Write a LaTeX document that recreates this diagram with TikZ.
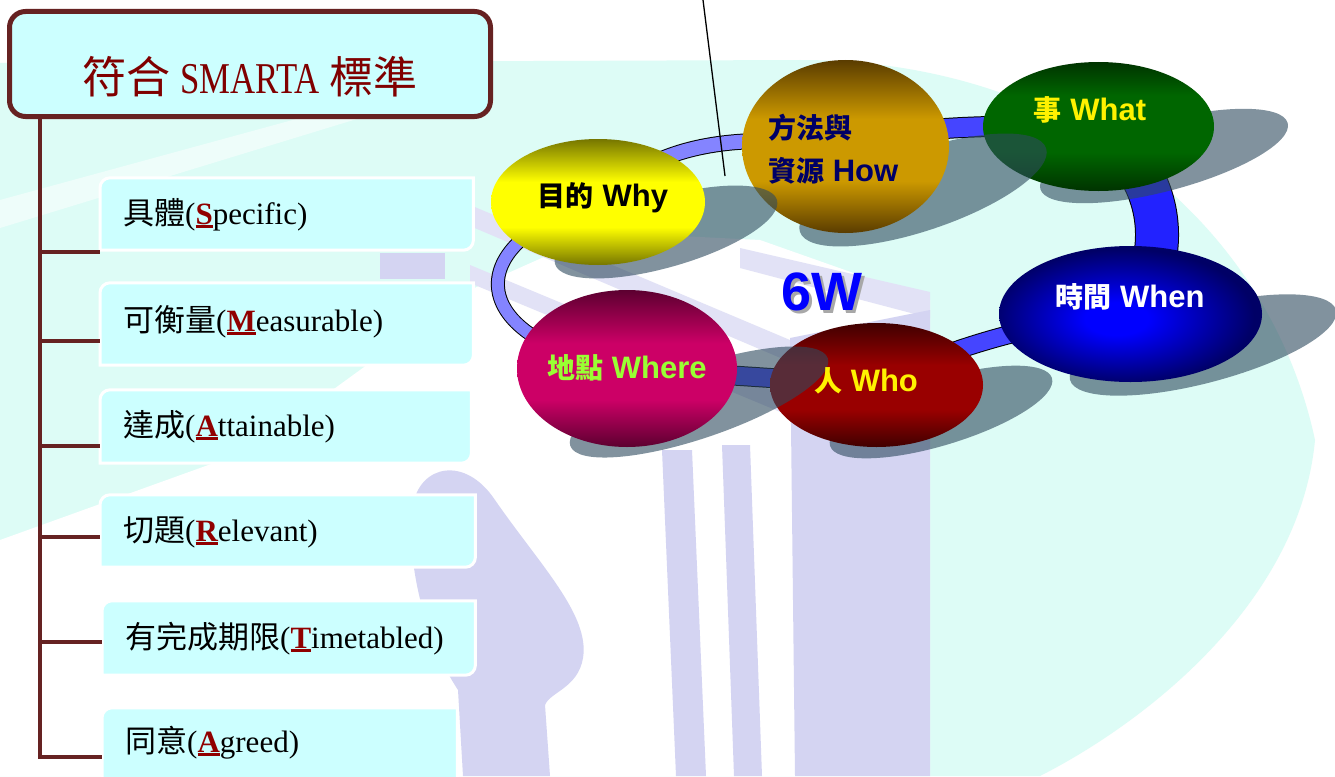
\documentclass[tikz,border=0pt]{standalone}
\usepackage{fontspec}
\usepackage{graphicx}
\setmainfont{Liberation Serif}
\newfontfamily\cjk{Noto Sans CJK TC}
\newfontfamily\arial{Liberation Sans}
\usetikzlibrary{shapes.geometric,calc}

\definecolor{trunk}{HTML}{662222}
\definecolor{titlered}{HTML}{800000}
\definecolor{keyred}{HTML}{900000}
\definecolor{boxcyan}{HTML}{CCFFFF}
\definecolor{wmcyan}{HTML}{DDFCF6}
\definecolor{wmlav}{HTML}{D4D4F2}
\definecolor{wmlavlt}{HTML}{E2E2F6}
\definecolor{ringlt}{HTML}{8484FF}
\definecolor{ringmd}{HTML}{4545FF}
\definecolor{ringdk}{HTML}{2222FF}
\definecolor{shadowc}{HTML}{2E4A5E}
\definecolor{whyD}{HTML}{767600}
\definecolor{whyL}{HTML}{FFFF00}
\definecolor{howD}{HTML}{5A3C00}
\definecolor{howL}{HTML}{CC9900}
\definecolor{whatD}{HTML}{003300}
\definecolor{whatL}{HTML}{006600}
\definecolor{whoD}{HTML}{400000}
\definecolor{whoL}{HTML}{990000}
\definecolor{whereD}{HTML}{5C0030}
\definecolor{whereL}{HTML}{CC0066}
\definecolor{whenD}{HTML}{000066}
\definecolor{whenL}{HTML}{0000FF}
\definecolor{howtxt}{HTML}{000066}
\definecolor{wheretxt}{HTML}{99FF33}
\definecolor{sixgray}{HTML}{A8A8A8}

\pgfdeclareverticalshading{whysh}{100bp}{color(0bp)=(whyD); color(25bp)=(whyD); color(40bp)=(whyL); color(58bp)=(whyL); color(75bp)=(whyD); color(100bp)=(whyD)}
\pgfdeclareverticalshading{howsh}{100bp}{color(0bp)=(howD); color(25bp)=(howD); color(40bp)=(howL); color(58bp)=(howL); color(75bp)=(howD); color(100bp)=(howD)}
\pgfdeclareverticalshading{whatsh}{100bp}{color(0bp)=(whatD); color(25bp)=(whatD); color(40bp)=(whatL); color(62bp)=(whatL); color(75bp)=(whatD); color(100bp)=(whatD)}
\pgfdeclareverticalshading{whosh}{100bp}{color(0bp)=(whoD); color(25bp)=(whoD); color(40bp)=(whoL); color(58bp)=(whoL); color(75bp)=(whoD); color(100bp)=(whoD)}
\pgfdeclareverticalshading{wheresh}{100bp}{color(0bp)=(whereD); color(25bp)=(whereD); color(40bp)=(whereL); color(58bp)=(whereL); color(75bp)=(whereD); color(100bp)=(whereD)}
\pgfdeclareradialshading{whensh}{\pgfpoint{-3bp}{-2bp}}{color(0bp)=(whenL); color(6bp)=(whenL); color(25bp)=(whenD); color(50bp)=(whenD)}

\pgfdeclarelayer{wm}
\pgfdeclarelayer{ring}
\pgfsetlayers{wm,ring,main}

\newcommand\ck[1]{{\cjk\fontsize{28}{36}\selectfont #1}}
\newcommand\keyl[1]{{\bfseries\color{keyred}\setbox0=\hbox{#1}\rlap{\rule[-3.5pt]{\wd0}{3pt}}\box0}}
\newcommand\itemframe[2]{%
  \filldraw[fill=boxcyan, draw=white, line width=3pt]
    ($(#1.south west)+(0,#2)$) -- ($(#1.north west)+(0,10)$)
    arc[start angle=180, end angle=270, radius=10] -- (#1.north east)
    -- ($(#1.south east)+(0,#2-10)$)
    arc[start angle=0, end angle=90, radius=10] -- cycle;}

\tikzset{
  ell/.style={ellipse, inner sep=0pt, draw=none},
  shadowfill/.style={fill=shadowc, fill opacity=0.6},
  lbl/.style={inner sep=0pt, font=\arial\bfseries\fontsize{31}{43}\selectfont},
  band/.style={draw=black, line width=1pt, double=#1},
  trunkline/.style={draw=trunk, line width=4.5pt},
  itemnode/.style={anchor=west, inner xsep=23pt, inner ysep=0pt, align=left,
    text depth=0pt, text height=20pt, font=\fontsize{31}{36}\selectfont},
  titlebox/.style={draw=trunk, line width=5pt, fill=boxcyan, rounded corners=16pt,
    minimum width=481pt, minimum height=105pt, inner sep=0pt,
    text height=58pt, text depth=0pt, text=titlered, font=\fontsize{44}{48}\selectfont}
}

\begin{document}
\begin{tikzpicture}[x=1pt, y=-1pt]
\useasboundingbox (0,0) rectangle (1335,776);

% ---------- watermark background ----------
\begin{pgfonlayer}{wm}
\fill[white] (0,0) rectangle (1335,776);
\fill[wmcyan] (0,63) -- (800,60) .. controls (1080,60) and (1270,230) .. (1315,440)
  .. controls (1300,600) and (1150,720) .. (1040,776) -- (0,776) -- cycle;
\fill[white, opacity=0.5] (0,200) -- (300,118) -- (360,118) -- (0,228) -- cycle;
\fill[white] (0,540) -- (250,450) -- (470,290) -- (600,232) -- (760,240) -- (930,300)
  -- (930,776) -- (0,776) -- cycle;
\fill[wmlavlt] (470,205) -- (790,340) -- (790,362) -- (470,226) -- cycle;
\fill[wmlavlt] (470,265) -- (790,398) -- (790,416) -- (470,283) -- cycle;
\fill[wmlavlt] (740,248) -- (930,292) -- (930,318) -- (740,268) -- cycle;
\fill[wmlav] (380,253) rectangle (445,279);
\fill[wmlav] (790,338) -- (930,310) -- (930,776) -- (795,776) -- cycle;
\fill[wmlav] (662,450) -- (692,450) -- (706,776) -- (676,776) -- cycle;
\fill[wmlav] (722,445) -- (750,445) -- (762,776) -- (734,776) -- cycle;
\fill[wmlav] (463,776) -- (458,690) .. controls (425,640) and (405,560) .. (413,505)
  .. controls (420,465) and (465,455) .. (495,500)
  .. controls (540,565) and (590,615) .. (583,658)
  .. controls (578,688) and (550,692) .. (545,705) -- (550,776) -- cycle;
\end{pgfonlayer}

% ---------- left: SMARTA tree ----------
\node[titlebox] (title) at (250,64)
  {{\cjk 符合}\hspace{10pt}\scalebox{0.79}[1]{SMARTA}\hspace{10pt}{\cjk 標準}};

\node[itemnode, text width=327pt, minimum height=72pt] (b1) at (100,214)
  {{\cjk 具體}(\keyl{S}pecific)};
\node[itemnode, text width=327pt, minimum height=82pt, text height=14pt] (b2) at (100,324)
  {{\cjk 可衡量}(\keyl{M}easurable)};
\node[itemnode, text width=325pt, minimum height=73pt] (b3) at (100,426.5)
  {{\cjk 達成}(\keyl{A}ttainable)};
\node[itemnode, text width=329pt, minimum height=72pt] (b4) at (100,531)
  {{\cjk 切題}(\keyl{R}elevant)};
\node[itemnode, text width=327pt, minimum height=74pt] (b5) at (102,638)
  {{\cjk 有完成期限}(\keyl{T}imetabled)};
\node[itemnode, text width=309pt, minimum height=68pt] (b6) at (102,742)
  {{\cjk 同意}(\keyl{A}greed)};

\begin{pgfonlayer}{ring}
\itemframe{b1}{0}
\itemframe{b2}{0}
\itemframe{b3}{0}
\itemframe{b4}{0}
\itemframe{b5}{0}
\itemframe{b6}{20}
\end{pgfonlayer}

\coordinate (spinebot) at (40,757);
\coordinate (br1) at (40,252);
\coordinate (br2) at (40,341);
\coordinate (br3) at (40,446);
\coordinate (br4) at (40,537);
\coordinate (br5) at (40,642);
\begin{pgfonlayer}{ring}
\draw[trunkline, line join=miter] (spinebot |- title.south) -- (spinebot) -- (spinebot -| b6.west);
\draw[trunkline] (br1) -- (br1 -| b1.west);
\draw[trunkline] (br2) -- (br2 -| b2.west);
\draw[trunkline] (br3) -- (br3 -| b3.west);
\draw[trunkline] (br4) -- (br4 -| b4.west);
\draw[trunkline] (br5) -- (br5 -| b5.west);
\end{pgfonlayer}

% ---------- right: 6W ring ----------
% What
\fill[shadowfill, rotate around={14.9:(1164,156)}] (1164,156) ellipse [x radius=128, y radius=35];
\node[ell, minimum width=231pt, minimum height=129pt, shading=whatsh] (what) at (1098.5,126.5) {};
% How
\fill[shadowfill, rotate around={18.8:(923,190)}] (923,190) ellipse [x radius=130, y radius=40];
\node[ell, minimum width=207pt, minimum height=173pt, shading=howsh] (how) at (845.5,146.5) {};
% Why
\fill[shadowfill, rotate around={16.1:(666,232)}] (666,232) ellipse [x radius=115.5, y radius=35];
\node[ell, minimum width=214pt, minimum height=126pt, shading=whysh] (why) at (598,202) {};
% Who
\fill[shadowfill, rotate around={17:(941,412)}] (941,412) ellipse [x radius=116, y radius=33];
\node[ell, minimum width=213pt, minimum height=124pt, shading=whosh] (who) at (876.5,385) {};
% Where
\fill[shadowfill, rotate around={18.8:(699,402)}] (699,402) ellipse [x radius=136, y radius=36];
\node[ell, minimum width=220pt, minimum height=157pt, shading=wheresh] (where) at (627,368.5) {};
% When
\fill[shadowfill, rotate around={14.7:(1203,345)}] (1203,345) ellipse [x radius=137.5, y radius=38];
\node[ell, minimum width=263pt, minimum height=136pt, shading=whensh] (when) at (1130.5,314) {};

\begin{pgfonlayer}{ring}
\draw[band=ringlt, double distance=14pt] (why.center) .. controls (650,150) and (720,130) .. (how.center);
\draw[band=ringmd, double distance=19pt] (how.center) .. controls (900,125) and (1000,125) .. (what.center);
\draw[band=ringdk, double distance=42pt] (what.center) .. controls (1170,180) and (1170,260) .. (when.center);
\draw[band=ringmd, double distance=17pt] (when.center) .. controls (1050,320) and (950,345) .. (who.center);
\draw[band=ringmd, double distance=18pt] (who.center) -- (where.center);
\draw[band=ringlt, double distance=12pt] (where.center) .. controls (460,340) and (460,240) .. (why.center);
\end{pgfonlayer}

% labels
\node[lbl, text=black] (whyt) at (603,198) {\ck{目的} Why};
\node[lbl, text=howtxt, align=left, anchor=west] (howt) at (768,149) {\ck{方法與}\\\ck{資源} How};
\node[lbl, text=yellow] (whatt) at (1090,110) {\ck{事} What};
\node[lbl, text=white] (whent) at (1130,297) {\ck{時間} When};
\node[lbl, text=yellow] (whot) at (866,381) {\ck{人} Who};
\node[lbl, text=wheretxt] (wheret) at (627,368) {\ck{地點} Where};

\node[inner sep=0pt, font=\arial\bfseries\fontsize{54}{58}\selectfont, text=blue] (sixw) at (822,293)
  {\rlap{\hspace{3pt}\raisebox{-3pt}{\color{sixgray}6W}}6W};

% callout line from above
\coordinate (calltop) at (703,0);
\coordinate (callend) at (725,176);
\draw[black, line width=1.3pt] (calltop) -- (callend);
\end{tikzpicture}
\end{document}
